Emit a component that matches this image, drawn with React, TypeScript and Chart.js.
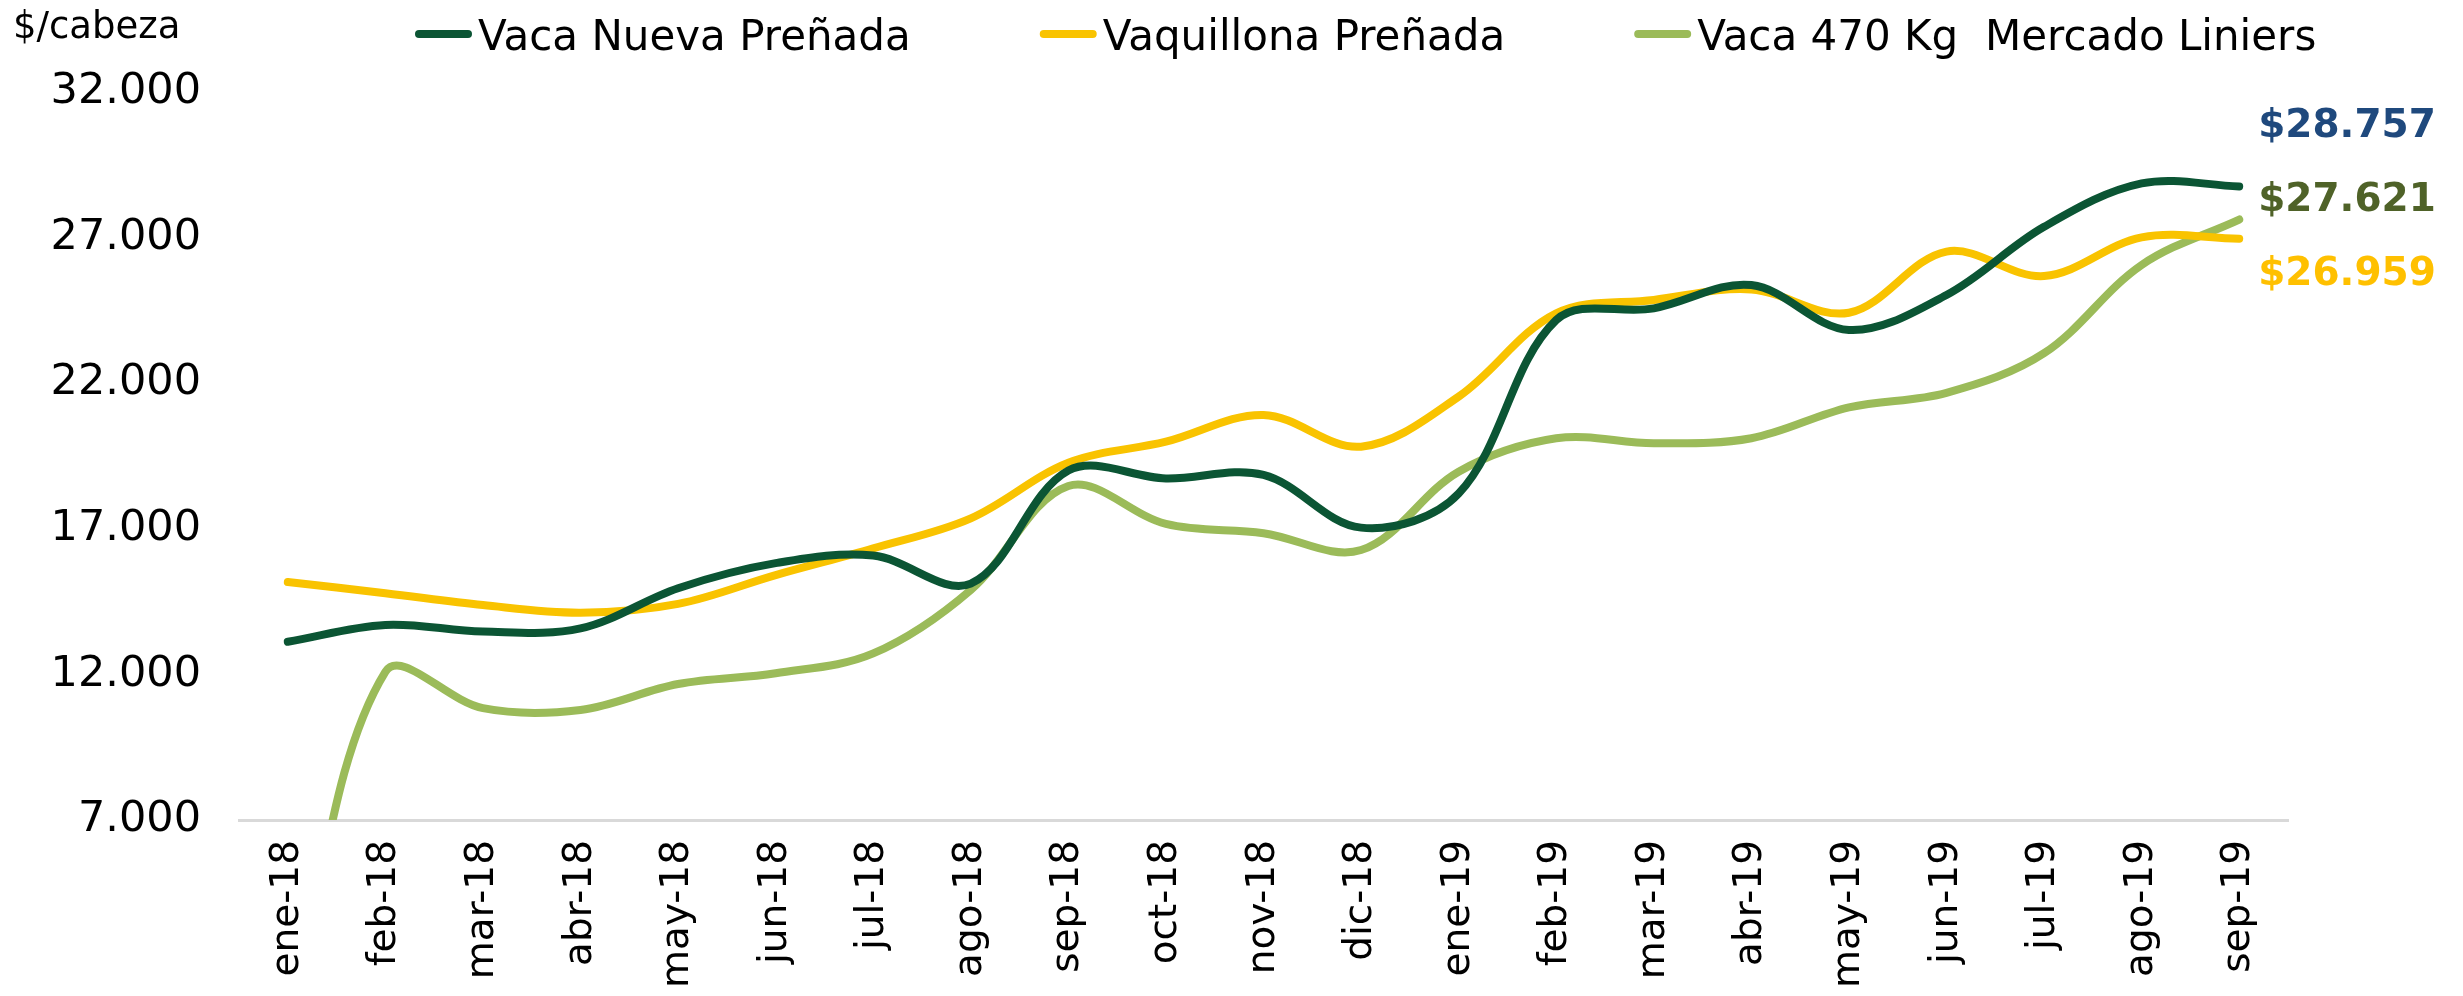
import React, { useEffect, useRef } from "react";
import { Chart, registerables } from "chart.js";

Chart.register(...registerables);

const categories = [
  "ene-18", "feb-18", "mar-18", "abr-18", "may-18", "jun-18", "jul-18", "ago-18", "sep-18", "oct-18", "nov-18", "dic-18",
  "ene-19", "feb-19", "mar-19", "abr-19", "may-19", "jun-19", "jul-19", "ago-19", "sep-19",
];

const vacaNuevaPrenada = [
  13120, 13700, 13470, 13580, 14960, 15820, 16080, 15120, 19000, 18730, 18850, 17040,
  18210, 24170, 24570, 25370, 23830, 25030, 27370, 28860, 28757,
];

const vaquillonaPrenada = [
  15170, 14790, 14380, 14120, 14420, 15410, 16330, 17360, 19270, 19990, 20910, 19820,
  21540, 24400, 24860, 25220, 24420, 26520, 25680, 27010, 26959,
];

const vaca470Liniers = [
  0, 12090, 10840, 10780, 11670, 12040, 12720, 14900, 18470, 17170, 16850, 16270,
  18960, 20110, 19940, 20110, 21170, 21670, 23030, 26060, 27621,
];

const seriesNames = ["Vaca Nueva Preñada", "Vaquillona Preñada", "Vaca 470 Kg  Mercado Liniers"];
const seriesColors = ["#0B5534", "#F9C300", "#9BBB59"];
const endLabelOrder = [0, 2, 1];
const endLabelColors = ["#1F497D", "#4F6228", "#FFC000"];
const unitLabel = "$/cabeza";
const yMin = 7000;
const yMax = 32000;
const yStep = 5000;

const fmt = (n: number) => String(Math.round(n)).replace(/\B(?=(\d{3})+(?!\d))/g, ".");

const FONT = '"DejaVu Sans", "Noto Sans", sans-serif';

const overlayPlugin = {
  id: "overlay",
  afterDraw(chart: any) {
    const { ctx, chartArea } = chart;
    ctx.save();
    // unit label
    ctx.font = `37px ${FONT}`;
    ctx.fillStyle = "#000";
    ctx.textAlign = "left";
    ctx.textBaseline = "alphabetic";
    ctx.fillText(unitLabel, 13, 38);

    // legend
    let x = 415;
    chart.data.datasets.forEach((ds: any) => {
      ctx.strokeStyle = ds.borderColor;
      ctx.lineWidth = 8;
      ctx.lineCap = "round";
      ctx.beginPath();
      ctx.moveTo(x + 4, 34);
      ctx.lineTo(x + 53, 34);
      ctx.stroke();
      ctx.font = `42px ${FONT}`;
      ctx.fillStyle = "#000";
      ctx.textAlign = "left";
      ctx.textBaseline = "alphabetic";
      ctx.fillText(ds.label, x + 63, 50);
      x += 63 + ctx.measureText(ds.label).width + 129;
    });

    // end value labels
    ctx.font = `bold 39px ${FONT}`;
    ctx.textAlign = "center";
    ctx.textBaseline = "middle";
    endLabelOrder.forEach((di, k) => {
      const ds = chart.data.datasets[di];
      const v = ds.data[ds.data.length - 1];
      ctx.fillStyle = endLabelColors[k];
      ctx.fillText("$" + fmt(v), 2347, chartArea.top + 35 + k * 74);
    });
    ctx.restore();
  },
};

export default function App() {
  const canvasRef = useRef<HTMLCanvasElement>(null);

  useEffect(() => {
    document.body.style.margin = "0";
    const canvas = canvasRef.current;
    if (!canvas) return;
    const seriesData = [vacaNuevaPrenada, vaquillonaPrenada, vaca470Liniers];
    const chart = new Chart(canvas, {
      type: "line",
      data: {
        labels: categories,
        datasets: seriesData.map((d, i) => ({
          label: seriesNames[i],
          data: d,
          borderColor: seriesColors[i],
          backgroundColor: seriesColors[i],
          borderWidth: 8,
          borderCapStyle: "round",
          borderJoinStyle: "round",
          pointRadius: 0,
          pointHoverRadius: 0,
          tension: 0.35,
          clip: 0,
          fill: false,
        })),
      },
      options: {
        responsive: false,
        animation: false,
        devicePixelRatio: 1,
        layout: { padding: { top: 92, right: 175, bottom: 0, left: 0 } },
        plugins: {
          legend: { display: false },
          tooltip: { enabled: false },
        },
        scales: {
          x: {
            offset: true,
            grid: { display: false, drawTicks: false },
            border: { display: true, color: "#D9D9D9", width: 3 },
            ticks: {
              autoSkip: false,
              maxRotation: 90,
              minRotation: 90,
              padding: 20,
              color: "#000",
              font: { family: FONT, size: 39 },
            },
            afterFit: (scale: any) => {
              scale.height = 176;
            },
          },
          y: {
            min: yMin,
            max: yMax,
            grid: { display: false, drawTicks: false },
            border: { display: false },
            ticks: {
              stepSize: yStep,
              padding: 38,
              color: "#000",
              font: { family: FONT, size: 43 },
              callback: (v: any) => fmt(Number(v)),
            },
            afterFit: (scale: any) => {
              scale.width = 239;
            },
          },
        },
      },
      plugins: [overlayPlugin],
    } as any);
    return () => chart.destroy();
  }, []);

  return <canvas ref={canvasRef} width={2463} height={996} style={{ display: "block" }} />;
}
